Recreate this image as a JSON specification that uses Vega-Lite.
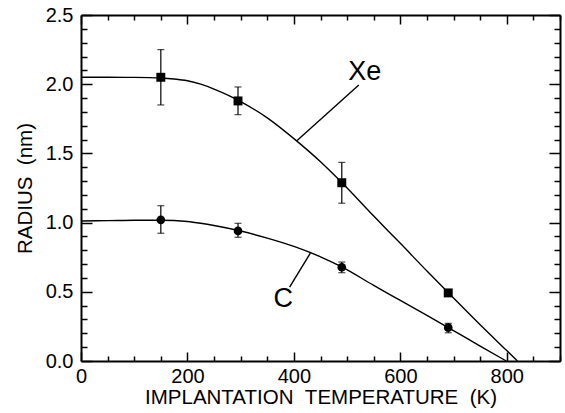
{
  "$schema": "https://vega.github.io/schema/vega-lite/v6.json",
  "width": 479,
  "height": 346,
  "autosize": {"type": "none"},
  "padding": {"left": 81, "top": 15, "right": 5, "bottom": 52},
  "background": "white",
  "config": {
    "view": {"stroke": null},
    "font": "Liberation Sans",
    "axis": {
      "grid": false,
      "domainColor": "black",
      "domainWidth": 2,
      "tickColor": "black",
      "tickWidth": 1.5,
      "labelColor": "black",
      "titleColor": "black",
      "labelFontSize": 20,
      "titleFontSize": 20.5,
      "titleFontWeight": "normal",
      "labelOverlap": false,
      "labelFlush": false,
      "labelBound": false
    }
  },
  "datasets": {
    "curves": [
      {"series": "Xe", "T": 0, "R": 2.05}, {"series": "Xe", "T": 50, "R": 2.05}, {"series": "Xe", "T": 100, "R": 2.049},
      {"series": "Xe", "T": 150, "R": 2.045}, {"series": "Xe", "T": 175, "R": 2.038}, {"series": "Xe", "T": 200, "R": 2.025},
      {"series": "Xe", "T": 225, "R": 2.0}, {"series": "Xe", "T": 250, "R": 1.965}, {"series": "Xe", "T": 275, "R": 1.923},
      {"series": "Xe", "T": 300, "R": 1.874}, {"series": "Xe", "T": 350, "R": 1.757}, {"series": "Xe", "T": 400, "R": 1.607},
      {"series": "Xe", "T": 450, "R": 1.44}, {"series": "Xe", "T": 490, "R": 1.29}, {"series": "Xe", "T": 550, "R": 1.047},
      {"series": "Xe", "T": 600, "R": 0.85}, {"series": "Xe", "T": 650, "R": 0.65}, {"series": "Xe", "T": 690, "R": 0.494},
      {"series": "Xe", "T": 750, "R": 0.262}, {"series": "Xe", "T": 800, "R": 0.075}, {"series": "Xe", "T": 820, "R": 0},
      {"series": "C", "T": 0, "R": 1.012}, {"series": "C", "T": 50, "R": 1.014}, {"series": "C", "T": 100, "R": 1.017},
      {"series": "C", "T": 150, "R": 1.017}, {"series": "C", "T": 175, "R": 1.015}, {"series": "C", "T": 200, "R": 1.008},
      {"series": "C", "T": 225, "R": 0.995}, {"series": "C", "T": 250, "R": 0.979}, {"series": "C", "T": 300, "R": 0.939},
      {"series": "C", "T": 350, "R": 0.888}, {"series": "C", "T": 400, "R": 0.828}, {"series": "C", "T": 450, "R": 0.753},
      {"series": "C", "T": 490, "R": 0.68}, {"series": "C", "T": 550, "R": 0.546}, {"series": "C", "T": 600, "R": 0.438},
      {"series": "C", "T": 650, "R": 0.329}, {"series": "C", "T": 690, "R": 0.241}, {"series": "C", "T": 750, "R": 0.108},
      {"series": "C", "T": 799, "R": 0}
    ],
    "points": [
      {"series": "Xe", "T": 150, "R": 2.05, "lo": 1.85, "hi": 2.25},
      {"series": "Xe", "T": 295, "R": 1.879, "lo": 1.78, "hi": 1.98},
      {"series": "Xe", "T": 490, "R": 1.288, "lo": 1.14, "hi": 1.435},
      {"series": "Xe", "T": 690, "R": 0.492, "lo": 0.47, "hi": 0.51},
      {"series": "C", "T": 150, "R": 1.02, "lo": 0.923, "hi": 1.122},
      {"series": "C", "T": 295, "R": 0.94, "lo": 0.894, "hi": 0.995},
      {"series": "C", "T": 490, "R": 0.677, "lo": 0.638, "hi": 0.715},
      {"series": "C", "T": 690, "R": 0.241, "lo": 0.204, "hi": 0.272}
    ],
    "pointers": [
      {"series": "Xe", "T1": 405, "R1": 1.59, "T2": 522, "R2": 1.994},
      {"series": "C", "T1": 431, "R1": 0.78, "T2": 392, "R2": 0.533}
    ],
    "labels": [
      {"text": "Xe", "T": 533, "R": 2.09},
      {"text": "C", "T": 380, "R": 0.448}
    ]
  },
  "layer": [
    {
      "data": {"name": "curves"},
      "mark": {"type": "line", "color": "black", "strokeWidth": 1.4, "interpolate": "monotone"},
      "encoding": {
        "x": {
          "field": "T", "type": "quantitative",
          "scale": {"domain": [0, 900], "nice": false},
          "axis": {
            "orient": "bottom",
            "title": "IMPLANTATION\u00a0\u00a0TEMPERATURE\u00a0\u00a0(K)",
            "titlePadding": -3,
            "values": [0, 50, 100, 150, 200, 250, 300, 350, 400, 450, 500, 550, 600, 650, 700, 750, 800, 850, 900],
            "labelExpr": "datum.value % 200 == 0 ? datum.label : ''",
            "tickSize": {"condition": {"test": "datum.value % 200 == 0", "value": -9}, "value": -5},
            "labelPadding": 14
          }
        },
        "y": {
          "field": "R", "type": "quantitative",
          "scale": {"domain": [0, 2.5], "nice": false},
          "axis": {
            "orient": "left",
            "title": "RADIUS\u00a0\u00a0(nm)",
            "values": [0, 0.1, 0.2, 0.3, 0.4, 0.5, 0.6, 0.7, 0.8, 0.9, 1, 1.1, 1.2, 1.3, 1.4, 1.5, 1.6, 1.7, 1.8, 1.9, 2, 2.1, 2.2, 2.3, 2.4, 2.5],
            "labelExpr": "round(datum.value * 10) % 5 == 0 ? format(datum.value, '.1f') : ''",
            "tickSize": {"condition": {"test": "round(datum.value * 10) % 5 == 0", "value": -11}, "value": -6},
            "labelPadding": 19,
            "titlePadding": 10
          }
        },
        "detail": {"field": "series"}
      }
    },
    {
      "data": {"name": "points"},
      "mark": {"type": "errorbar", "ticks": {"size": 7, "color": "black", "thickness": 1.2}, "rule": {"color": "black", "strokeWidth": 1.2}},
      "encoding": {
        "x": {"field": "T", "type": "quantitative", "axis": null},
        "y": {"field": "lo", "type": "quantitative", "axis": null},
        "y2": {"field": "hi"}
      }
    },
    {
      "data": {"name": "points"},
      "mark": {"type": "point", "filled": true, "color": "black", "opacity": 1},
      "encoding": {
        "x": {
          "field": "T", "type": "quantitative",
          "axis": {
            "orient": "top", "labels": false, "title": null,
            "values": [0, 50, 100, 150, 200, 250, 300, 350, 400, 450, 500, 550, 600, 650, 700, 750, 800, 850, 900],
            "tickSize": {"condition": {"test": "datum.value % 200 == 0", "value": -9}, "value": -5}
          }
        },
        "y": {
          "field": "R", "type": "quantitative",
          "axis": {
            "orient": "right", "labels": false, "title": null,
            "values": [0, 0.1, 0.2, 0.3, 0.4, 0.5, 0.6, 0.7, 0.8, 0.9, 1, 1.1, 1.2, 1.3, 1.4, 1.5, 1.6, 1.7, 1.8, 1.9, 2, 2.1, 2.2, 2.3, 2.4, 2.5],
            "tickSize": {"condition": {"test": "round(datum.value * 10) % 5 == 0", "value": -11}, "value": -6}
          }
        },
        "shape": {"field": "series", "type": "nominal", "scale": {"domain": ["Xe", "C"], "range": ["square", "circle"]}, "legend": null},
        "size": {"field": "series", "type": "nominal", "scale": {"domain": ["Xe", "C"], "range": [80, 75]}, "legend": null}
      }
    },
    {
      "data": {"name": "pointers"},
      "mark": {"type": "rule", "color": "black", "strokeWidth": 1.4},
      "encoding": {
        "x": {"field": "T1", "type": "quantitative", "axis": null},
        "y": {"field": "R1", "type": "quantitative", "axis": null},
        "x2": {"field": "T2"},
        "y2": {"field": "R2"}
      }
    },
    {
      "data": {"name": "labels"},
      "mark": {"type": "text", "fontSize": 27, "color": "black", "align": "center", "baseline": "middle"},
      "encoding": {
        "x": {"field": "T", "type": "quantitative", "axis": null},
        "y": {"field": "R", "type": "quantitative", "axis": null},
        "text": {"field": "text"}
      }
    }
  ],
  "resolve": {"axis": {"x": "independent", "y": "independent"}}
}
